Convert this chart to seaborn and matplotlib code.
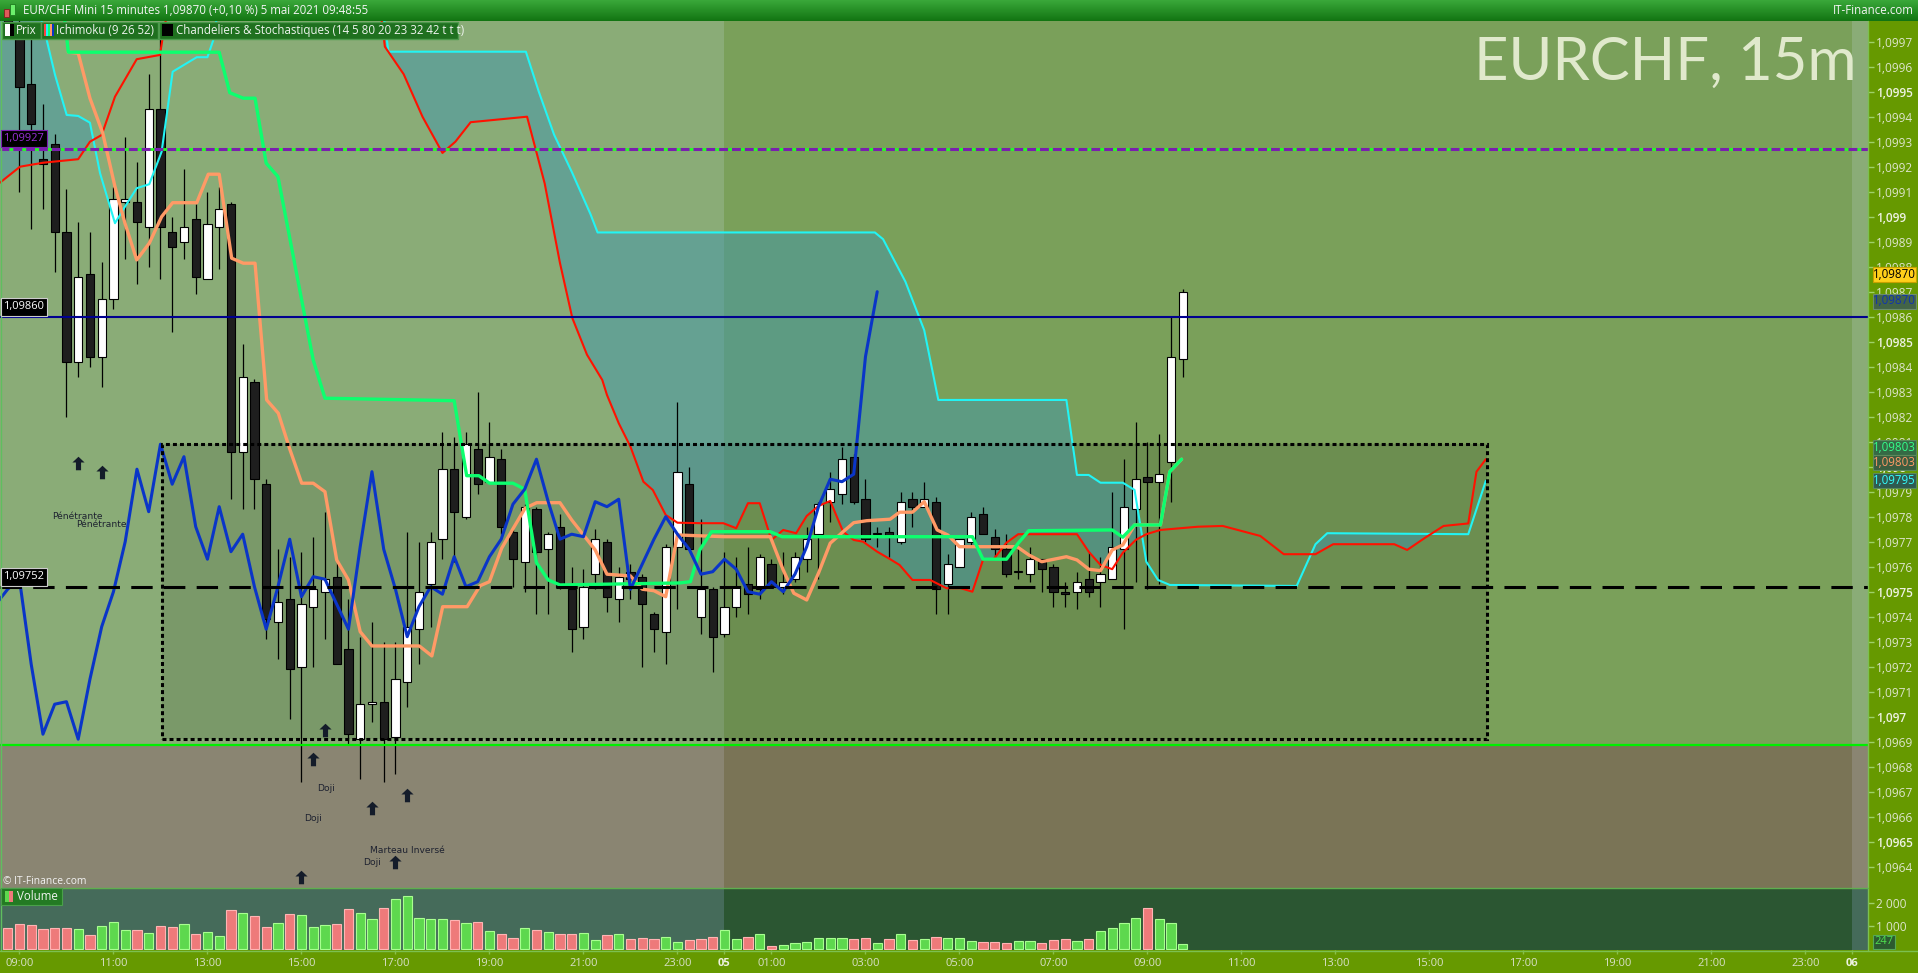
import numpy as np
import pandas as pd
import matplotlib
matplotlib.use("Agg")
import matplotlib.pyplot as plt
import seaborn as sns
from matplotlib.patches import Rectangle
from matplotlib.path import Path
from matplotlib.colors import LinearSegmentedColormap
from matplotlib import font_manager as fm

# ---------------------------------------------------------------- data
# 15-minute candles, EUR/CHF, 4 May 08:45 -> 5 May 09:45 (index 0..100)
opens = [1.09985, 1.09975, 1.09953, 1.09923, 1.09929, 1.09894, 1.09842, 1.09877, 1.09844, 1.09867,
         1.09906, 1.09906, 1.09896, 1.09943, 1.09894, 1.09890, 1.09899, 1.09875, 1.09896, 1.09905,
         1.09806, 1.09834, 1.09793, 1.09738, 1.09747, 1.09720, 1.09744, 1.09750, 1.09756, 1.09727,
         1.09691, 1.09705, 1.09706, 1.09692, 1.09714, 1.09735, 1.09753, 1.09771, 1.09799, 1.09780,
         1.09807, 1.09794, 1.09803, 1.09774, 1.09762, 1.09783, 1.09767, 1.09776, 1.09751, 1.09736,
         1.09757, 1.09770, 1.09747, 1.09758, 1.09756, 1.09741, 1.09734, 1.09768, 1.09793, 1.09740,
         1.09751, 1.09733, 1.09744, 1.09753, 1.09751, 1.09761, 1.09752, 1.09755, 1.09763, 1.09773,
         1.09786, 1.09789, 1.09804, 1.09787, 1.09773, 1.09774, 1.09770, 1.09787, 1.09784, 1.09786,
         1.09753, 1.09760, 1.09770, 1.09781, 1.09772, 1.09767, 1.09758, 1.09757, 1.09763, 1.09760,
         1.09750, 1.09750, 1.09755, 1.09754, 1.09755, 1.09767, 1.09783, 1.09796, 1.09794, 1.09802,
         1.09843]
highs = [1.09998, 1.09980, 1.09975, 1.09945, 1.09933, 1.09911, 1.09898, 1.09894, 1.09882, 1.09912,
         1.09932, 1.09922, 1.09957, 1.09973, 1.09900, 1.09919, 1.09905, 1.09910, 1.09912, 1.09906,
         1.09849, 1.09835, 1.09795, 1.09767, 1.09764, 1.09766, 1.09772, 1.09782, 1.09762, 1.09747,
         1.09732, 1.09738, 1.09730, 1.09730, 1.09774, 1.09770, 1.09774, 1.09814, 1.09812, 1.09814,
         1.09830, 1.09818, 1.09807, 1.09775, 1.09785, 1.09784, 1.09774, 1.09781, 1.09760, 1.09759,
         1.09775, 1.09771, 1.09760, 1.09761, 1.09757, 1.09742, 1.09769, 1.09826, 1.09800, 1.09779,
         1.09752, 1.09766, 1.09764, 1.09768, 1.09765, 1.09763, 1.09766, 1.09766, 1.09776, 1.09786,
         1.09798, 1.09808, 1.09805, 1.09795, 1.09776, 1.09776, 1.09790, 1.09790, 1.09794, 1.09788,
         1.09765, 1.09771, 1.09782, 1.09784, 1.09775, 1.09773, 1.09768, 1.09768, 1.09763, 1.09761,
         1.09754, 1.09758, 1.09766, 1.09764, 1.09790, 1.09803, 1.09818, 1.09810, 1.09813, 1.09860,
         1.09871]
lows = [1.09974, 1.09910, 1.09895, 1.09903, 1.09878, 1.09820, 1.09836, 1.09840, 1.09832, 1.09863,
        1.09883, 1.09873, 1.09880, 1.09875, 1.09854, 1.09883, 1.09869, 1.09875, 1.09879, 1.09787,
        1.09783, 1.09783, 1.09731, 1.09723, 1.09699, 1.09674, 1.09720, 1.09731, 1.09721, 1.09689,
        1.09675, 1.09698, 1.09674, 1.09677, 1.09704, 1.09721, 1.09736, 1.09763, 1.09762, 1.09779,
        1.09789, 1.09794, 1.09773, 1.09752, 1.09750, 1.09741, 1.09741, 1.09751, 1.09726, 1.09731,
        1.09751, 1.09742, 1.09738, 1.09747, 1.09720, 1.09726, 1.09721, 1.09743, 1.09767, 1.09733,
        1.09718, 1.09732, 1.09740, 1.09741, 1.09747, 1.09752, 1.09749, 1.09754, 1.09758, 1.09755,
        1.09778, 1.09785, 1.09785, 1.09770, 1.09768, 1.09764, 1.09769, 1.09776, 1.09784, 1.09741,
        1.09741, 1.09760, 1.09768, 1.09773, 1.09763, 1.09756, 1.09755, 1.09754, 1.09750, 1.09744,
        1.09744, 1.09743, 1.09748, 1.09744, 1.09755, 1.09735, 1.09754, 1.09751, 1.09753, 1.09786,
        1.09836]
closes = [1.09978, 1.09952, 1.09937, 1.09921, 1.09894, 1.09842, 1.09876, 1.09844, 1.09867, 1.09907,
          1.09907, 1.09898, 1.09943, 1.09896, 1.09888, 1.09896, 1.09876, 1.09897, 1.09903, 1.09806,
          1.09836, 1.09795, 1.09739, 1.09746, 1.09719, 1.09745, 1.09751, 1.09755, 1.09721, 1.09693,
          1.09705, 1.09706, 1.09691, 1.09715, 1.09736, 1.09750, 1.09770, 1.09799, 1.09782, 1.09809,
          1.09793, 1.09804, 1.09776, 1.09763, 1.09784, 1.09766, 1.09773, 1.09752, 1.09735, 1.09752,
          1.09771, 1.09748, 1.09756, 1.09755, 1.09745, 1.09735, 1.09768, 1.09798, 1.09767, 1.09751,
          1.09732, 1.09744, 1.09752, 1.09749, 1.09764, 1.09752, 1.09754, 1.09764, 1.09771, 1.09785,
          1.09791, 1.09803, 1.09786, 1.09771, 1.09773, 1.09772, 1.09786, 1.09784, 1.09787, 1.09751,
          1.09761, 1.09771, 1.09780, 1.09773, 1.09767, 1.09757, 1.09758, 1.09763, 1.09759, 1.09750,
          1.09749, 1.09754, 1.09750, 1.09757, 1.09768, 1.09784, 1.09795, 1.09794, 1.09797, 1.09844,
          1.09870]
volumes = [900, 1070, 1030, 860, 900, 900, 860, 610, 990, 1190,
           820, 820, 690, 990, 940, 1070, 650, 740, 570, 1690,
           1570, 1440, 940, 1110, 1530, 1490, 940, 1030, 1070, 1740,
           1570, 1320, 1780, 2150, 2280, 1360, 1320, 1280, 1240, 1150,
           1190, 780, 650, 490, 900, 820, 740, 650, 650, 690,
           400, 610, 650, 440, 490, 440, 530, 320, 400, 440,
           530, 820, 440, 530, 650, 150, 190, 280, 320, 490,
           490, 490, 440, 490, 280, 440, 650, 400, 440, 530,
           490, 490, 360, 320, 320, 280, 360, 360, 280, 400,
           440, 360, 440, 780, 900, 1150, 1360, 1780, 1280, 1110,
           240]
volume_up = [0, 0, 0, 0, 0, 0, 1, 0, 1, 1,
             1, 0, 1, 0, 0, 1, 0, 1, 1, 0,
             1, 0, 0, 1, 0, 1, 1, 1, 0, 0,
             1, 1, 0, 1, 1, 1, 1, 1, 0, 1,
             0, 1, 0, 0, 1, 0, 1, 0, 0, 1,
             1, 0, 1, 0, 0, 0, 1, 1, 0, 0,
             0, 1, 1, 0, 1, 0, 1, 1, 1, 1,
             1, 1, 0, 0, 1, 0, 1, 0, 1, 0,
             1, 1, 1, 0, 0, 0, 1, 1, 0, 0,
             0, 1, 0, 1, 1, 1, 1, 0, 1, 1,
             1]

# Ichimoku (9 26 52) lines, vertices as (bar index, price)
senkou_red_x = [-0.66, 1.05, 3.03, 6.0, 7.0, 8.0, 9.13, 10.98, 12.96, 13.3, 14.2, 31.4, 32.1, 33.7, 35.3,
                37.0, 38.1, 39.4, 44.2, 45.7, 47.0, 48.05, 49.3, 50.6, 51.0, 52.0, 53.0, 54.1, 54.9, 56.0,
                57.0, 59.0, 60.9, 62.0, 63.0, 64.0, 65.0, 66.0, 67.1, 68.0, 69.0, 70.0, 71.1, 72.0, 72.8,
                74.0, 75.1, 75.9, 77.0, 78.5, 79.9, 81.1, 82.1, 83.0, 83.9, 85.0, 86.0, 91.0, 92.0, 93.0,
                94.0, 94.9, 96.0, 96.9, 98.1, 101.3, 103.4, 106.6, 108.6, 111.3, 112.8, 118.0, 119.1,
                120.6, 122.2, 124.3, 125.0, 125.8]
senkou_red_y = [1.099136, 1.09920, 1.099216, 1.09923, 1.09930, 1.099327, 1.09948, 1.09963, 1.099647,
                1.09975, 1.09995, 1.09995, 1.09968, 1.09957, 1.09940, 1.099255, 1.09930, 1.099378,
                1.09940, 1.099133, 1.098815, 1.098595, 1.098448, 1.098347, 1.098287, 1.098174, 1.09808,
                1.09794, 1.097907, 1.097807, 1.097776, 1.097774, 1.097774, 1.097754, 1.097854, 1.097854,
                1.097707, 1.097747, 1.097734, 1.097803, 1.097843, 1.097863, 1.09774, 1.097707, 1.0977,
                1.09766, 1.09763, 1.097607, 1.097547, 1.097547, 1.097514, 1.097514, 1.0975, 1.097627,
                1.09763, 1.097696, 1.09773, 1.09773, 1.09766, 1.097607, 1.09759, 1.097656, 1.097707,
                1.09773, 1.097747, 1.09776, 1.097763, 1.097723, 1.09765, 1.09765, 1.09769, 1.09769,
                1.097667, 1.097715, 1.097763, 1.097773, 1.09798, 1.09803]
senkou_cyan_x = [-0.66, 2.5, 3.32, 4.03, 5.02, 6.0, 7.0, 7.86, 9.13, 9.98, 10.98, 12.05, 13.1, 14.04, 16.09,
                 17.0, 17.5, 18.3, 31.6, 32.4, 44.1, 45.2, 46.5, 48.0, 49.6, 50.2, 73.8, 74.5, 76.4, 78.0,
                 79.2, 90.1, 91.0, 92.0, 93.0, 94.9, 95.9, 96.9, 97.9, 98.9, 109.7, 111.3, 112.3, 124.3,
                 125.8]
senkou_cyan_y = [1.09995, 1.09985, 1.099707, 1.099567, 1.099407, 1.099403, 1.099376, 1.099174, 1.098974,
                 1.09904, 1.099114, 1.09913, 1.09926, 1.09958, 1.099638, 1.099638, 1.099707, 1.09995,
                 1.09995, 1.09966, 1.09966, 1.09950, 1.099328, 1.09918, 1.09901, 1.098937, 1.098937,
                 1.09891, 1.09874, 1.098546, 1.098267, 1.098267, 1.097967, 1.097967, 1.097936, 1.097936,
                 1.097907, 1.09762, 1.097547, 1.097527, 1.097523, 1.09769, 1.097734, 1.09773, 1.097944]
kijun_x = [4.7, 5.16, 18.0, 18.9, 20.05, 21.05, 22.0, 23.0, 26.0, 27.0, 38.0, 39.06, 40.1, 41.0, 43.0,
           44.0, 45.0, 46.0, 47.0, 57.2, 58.1, 58.9, 59.9, 64.9, 65.9, 82.1, 83.0, 85.0, 86.0, 86.9,
           94.0, 94.9, 95.9, 98.1, 98.9, 99.9]
kijun_y = [1.09985, 1.099658, 1.099658, 1.099496, 1.099474, 1.099474, 1.099214, 1.09916, 1.098427,
           1.098274, 1.098264, 1.097964, 1.097964, 1.097934, 1.097934, 1.09791, 1.097616, 1.097547,
           1.097527, 1.097535, 1.09754, 1.097667, 1.09774, 1.09774, 1.09772, 1.09772, 1.09763, 1.09763,
           1.097694, 1.097744, 1.097747, 1.097718, 1.097767, 1.097767, 1.09798, 1.09803]
tenkan_x = [5.16, 6.0, 7.0, 8.09, 9.13, 9.98, 10.98, 12.05, 13.1, 14.04, 16.09, 17.07, 18.0, 19.06, 20.05,
            21.05, 22.04, 23.03, 24.03, 25.02, 26.0, 27.0, 28.0, 29.0, 30.0, 31.0, 35.03, 36.1, 37.02,
            39.1, 40.2, 41.0, 42.04, 43.03, 44.03, 45.02, 47.0, 48.0, 49.0, 50.0, 51.0, 53.0, 54.0, 55.0,
            56.0, 57.0, 61.0, 64.9, 66.0, 66.9, 68.0, 69.0, 70.0, 71.1, 72.0, 73.1, 75.1, 75.9, 77.0,
            78.0, 79.1, 80.0, 81.0, 85.9, 86.9, 88.0, 90.1, 91.0, 92.0, 93.0, 94.0, 94.9, 95.9, 98.1,
            98.9, 99.9]
tenkan_y = [1.099658, 1.099654, 1.099474, 1.099334, 1.09912, 1.098974, 1.098827, 1.098894, 1.0990,
            1.099056, 1.099056, 1.09917, 1.09917, 1.098834, 1.098814, 1.098814, 1.098267, 1.098214,
            1.098067, 1.097934, 1.097934, 1.0979, 1.097627, 1.097547, 1.09734, 1.097283, 1.097283,
            1.097243, 1.09744, 1.09744, 1.097524, 1.09754, 1.097674, 1.097754, 1.097834, 1.097856,
            1.097856, 1.097787, 1.097727, 1.097667, 1.09757, 1.097563, 1.09751, 1.097504, 1.09748,
            1.097727, 1.09772, 1.09772, 1.097587, 1.097494, 1.097467, 1.097574, 1.097694, 1.09774,
            1.097776, 1.097784, 1.09779, 1.097818, 1.097818, 1.09786, 1.097747, 1.097727, 1.09768,
            1.09768, 1.097647, 1.09762, 1.09764, 1.097627, 1.09759, 1.097584, 1.097667, 1.097687,
            1.097767, 1.097767, 1.09798, 1.09803]
chikou_shift = 26

# horizontal levels
level_purple = 1.09927
level_navy = 1.09860
level_black = 1.09752
level_zone = 1.096887
box_x = [13.1, 125.9]
box_y = [1.09691, 1.09809]

# pattern markers
arrow_x = [5.99, 8.03, 27.0, 25.96, 33.96, 31.03, 32.96, 24.96]
arrow_y = [1.098014, 1.09798, 1.096947, 1.09683, 1.096687, 1.096634, 1.09642, 1.09636]
pattern_text = ["Pénétrante", "Pénétrante", "Doji", "Doji", "Marteau Inversé", "Doji"]
pattern_x = [5.96, 8.0, 27.06, 26.0, 34.0, 31.03]
pattern_y = [1.0978, 1.097768, 1.096714, 1.096594, 1.096464, 1.096416]

# time axis
tick_index = [1, 9, 17, 25, 33, 41, 49, 57, 61, 65, 73, 81, 89, 97, 105, 113, 121, 129, 137, 145, 153, 157]
tick_labels = ["09:00", "11:00", "13:00", "15:00", "17:00", "19:00", "21:00", "23:00", "05", "01:00",
               "03:00", "05:00", "07:00", "09:00", "11:00", "13:00", "15:00", "17:00", "19:00", "21:00",
               "23:00", "06"]
day_starts = [60.93, 156.92]
price_ticks = [round(1.0964 + k * 0.0001, 4) for k in range(34)]
vol_ticks = [1000, 2000]
vol_tick_labels = ["1 000", "2 000"]

title_text = "EUR/CHF Mini 15 minutes 1,09870 (+0,10 %) 5 mai 2021 09:48:55"
legend_items = ["Prix", "Ichimoku (9 26 52)", "Chandeliers & Stochastiques (14 5 80 20 23 32 42 t t t)"]

# ---------------------------------------------------------------- style
sns.set_theme(style="white")


def has_font(name):
    try:
        fm.findfont(fm.FontProperties(family=name), fallback_to_default=False)
        return True
    except Exception:
        return False


UI = "Open Sans" if has_font("Open Sans") else "DejaVu Sans"
NARROW = "Liberation Sans Narrow" if has_font("Liberation Sans Narrow") else UI
BIG = "Lato" if has_font("Lato") else UI
plt.rcParams["font.family"] = [UI, "DejaVu Sans"]

W, H = 1918, 973
fig = plt.figure(figsize=(W / 100, H / 100), dpi=100)
fig.patch.set_facecolor("#669900")

XL, XR = -0.655, 158.32
YT, YB = 1.0997828, 1.0963148
VB, VT = -30, 2631

ax = fig.add_axes([0, 1 - 888 / H, 1868 / W, 867 / H])
axv = fig.add_axes([0, 1 - 950 / H, 1868 / W, 62 / H])
for a in (ax, axv):
    a.set_xlim(XL, XR)
    a.set_facecolor("none")
    for s in a.spines.values():
        s.set_visible(False)
ax.set_ylim(YB, YT)
axv.set_ylim(VB, VT)


def band(a, x0, x1, y0, y1, c, z=0, alpha=1.0):
    a.add_patch(Rectangle((x0, y0), x1 - x0, y1 - y0, facecolor=c, edgecolor="none",
                          zorder=z, alpha=alpha))


d5, d6 = day_starts
band(ax, XL, d5, level_zone, YT, "#8aac77")
band(ax, d5, d6, level_zone, YT, "#7aa05a")
band(ax, d6, XR, level_zone, YT, "#8aac77")
band(ax, XL, d5, YB, level_zone, "#8a8572")
band(ax, d5, d6, YB, level_zone, "#7a7456")
band(ax, d6, XR, YB, level_zone, "#8a8572")
band(axv, XL, d5, VB, VT, "#456b5a")
band(axv, d5, d6, VB, VT, "#2b5632")
band(axv, d6, XR, VB, VT, "#456b5a")

# dashed rectangle (consolidation box)
band(ax, box_x[0], box_x[1], box_y[0], box_y[1], "black", z=0.5, alpha=0.11)
ax.add_patch(Rectangle((box_x[0], box_y[0]), box_x[1] - box_x[0], box_y[1] - box_y[0],
                       fill=False, edgecolor="black", lw=2.2, linestyle=(0, (1.3, 1.0)), zorder=4.5))

# kumo
grid = np.linspace(-0.66, 125.8, 4000)
r_i = np.interp(grid, senkou_red_x, senkou_red_y)
c_i = np.interp(grid, senkou_cyan_x, senkou_cyan_y)
ax.fill_between(grid, r_i, c_i, where=c_i >= r_i, interpolate=True,
                color="#3a95b5", alpha=0.45, lw=0, zorder=1)

# candles
xi = np.arange(len(closes))
o = np.array(opens)
c = np.array(closes)
hi = np.array(highs)
lo = np.array(lows)
up = c >= o
ax.vlines(xi, lo, hi, color="black", lw=0.9, zorder=2)
bot = np.minimum(o, c)
hgt = np.maximum(np.abs(c - o), 0.000004)
ax.bar(xi[up], hgt[up], bottom=bot[up], width=0.7, color="white", edgecolor="black", lw=0.8, zorder=2.1)
ax.bar(xi[~up], hgt[~up], bottom=bot[~up], width=0.7, color="#1e1e1e", edgecolor="black", lw=0.8, zorder=2.1)

# ichimoku lines via seaborn
sns.lineplot(x=senkou_cyan_x, y=senkou_cyan_y, ax=ax, color="#22f4f4", lw=1.5, sort=False,
             estimator=None, zorder=3)
sns.lineplot(x=senkou_red_x, y=senkou_red_y, ax=ax, color="#ff1200", lw=1.5, sort=False,
             estimator=None, zorder=3.1)
sns.lineplot(x=tenkan_x, y=tenkan_y, ax=ax, color="#ff9a66", lw=2.4, sort=False,
             estimator=None, zorder=3.2)
sns.lineplot(x=kijun_x, y=kijun_y, ax=ax, color="#0dff6e", lw=2.4, sort=False,
             estimator=None, zorder=3.3)
sns.lineplot(x=xi - chikou_shift, y=closes, ax=ax, color="#0a35c8", lw=2.2, sort=False,
             estimator=None, zorder=3.4)

# horizontal levels
ax.axhline(level_purple, color="#22ff22", lw=2.0, zorder=4)
ax.axhline(level_purple, color="#7a1fae", lw=2.2, dashes=(2.9, 1.3), zorder=4.1)
ax.axhline(level_navy, color="#00008f", lw=1.5, zorder=4)
ax.axhline(level_black, color="black", lw=2.2, dashes=(7, 3.7), zorder=4)
ax.axhline(level_zone, color="#00f000", lw=1.6, zorder=4)

# pattern arrows and labels
arrow_path = Path([(0, 1), (0.9, 0.15), (0.38, 0.15), (0.38, -1), (-0.38, -1), (-0.38, 0.15),
                   (-0.9, 0.15), (0, 1)], closed=True)
ax.scatter(arrow_x, arrow_y, marker=arrow_path, s=95, color="#141c2a", lw=0, zorder=5)
for t, px, py in zip(pattern_text, pattern_x, pattern_y):
    ax.text(px, py, t, fontsize=6.6, color="#1e2230", ha="center", va="center",
            family="DejaVu Sans", zorder=5)

# volume bars
vols = np.array(volumes)
vup = np.array(volume_up) == 1
axv.bar(xi[vup], vols[vup], width=0.78, color="#5ed84e", edgecolor="#a8ff90", lw=0.8, zorder=2)
axv.bar(xi[~vup], vols[~vup], width=0.78, color="#ee7a7a", edgecolor="#ffb4b4", lw=0.8, zorder=2)

# axes ticks
ax.set_xticks([])
ax.yaxis.tick_right()
labels = [f"{v:.4f}".rstrip("0").replace(".", ",") for v in price_ticks]
ax.set_yticks(price_ticks, labels, family=UI)
ax.tick_params(axis="y", right=True, left=False, labelright=True, labelleft=False, length=4, width=1,
               color="#9fd06a", labelcolor="#dde4cc", labelsize=8.6, pad=2)
for lab, v in zip(ax.get_yticklabels(), price_ticks):
    if round(v * 10000) % 5 == 0:
        lab.set_fontweight("semibold")
        lab.set_color("#eef2e2")

axv.yaxis.tick_right()
axv.set_yticks(vol_ticks, vol_tick_labels, family=UI)
axv.tick_params(axis="y", right=True, left=False, labelright=True, labelleft=False, length=4, width=1,
                color="#9fd06a", labelcolor="#dde4cc", labelsize=8.6, pad=2)
axv.set_xticks(tick_index, tick_labels, family=NARROW)
axv.tick_params(axis="x", bottom=True, length=3, width=1, color="#8cc04a", labelcolor="#d8e0c8",
                labelsize=8.0, pad=3)
for lab, t in zip(axv.get_xticklabels(), tick_labels):
    if len(t) == 2:
        lab.set_fontweight("bold")
        lab.set_color("#eef2e2")

# ---------------------------------------------------------------- overlay (pixel coordinates)
ov = fig.add_axes([0, 0, 1, 1])
ov.set_zorder(10)
ov.patch.set_alpha(0)
ov.axis("off")

grad = LinearSegmentedColormap.from_list("tb", ["#3aa83a", "#127512"])
ov.imshow(np.linspace(0, 1, 40).reshape(-1, 1), extent=(0, W, 21, 0), aspect="auto", cmap=grad, zorder=1)
ov.set_xlim(0, W)
ov.set_ylim(H, 0)

# title icon
ov.add_patch(Rectangle((4, 9), 5, 8, facecolor="#e05a5a", edgecolor="#802020", lw=0.6, zorder=2))
ov.add_patch(Rectangle((10, 4), 5, 11, facecolor="#6cf06c", edgecolor="#1f7a1f", lw=0.6, zorder=2))
ov.text(23, 10.5, title_text, color="#f4f4f4", fontsize=8.3, va="center", ha="left", zorder=3)
ov.text(1914, 10.5, "IT-Finance.com", color="#f4f4f4", fontsize=8.3, va="center", ha="right", zorder=3)

# legend boxes
boxes = [(1.5, 39.5), (41, 116.5), (159, 298.5)]
for (bx, bw), txt in zip(boxes, legend_items):
    ov.add_patch(Rectangle((bx, 21.5), bw, 17.5, facecolor="#1f701f", edgecolor="#4c9a4c", lw=1, zorder=2))
ov.add_patch(Rectangle((5, 24), 4.5, 12, facecolor="white", edgecolor="none", zorder=3))
ov.add_patch(Rectangle((9.5, 24), 4.5, 12, facecolor="black", edgecolor="none", zorder=3))
ov.text(16, 30.5, legend_items[0], color="#eef4ee", fontsize=8.3, va="center", zorder=3)
for k, col in enumerate(["#ff4040", "#22f4f4", "#0dff6e", "#ff9a66", "#0a35c8"]):
    ov.add_patch(Rectangle((44 + 2 * k, 24), 2, 12, facecolor=col, edgecolor="none", zorder=3))
ov.text(56, 30.5, legend_items[1], color="#eef4ee", fontsize=8.3, va="center", zorder=3)
ov.add_patch(Rectangle((162, 24), 11, 12, facecolor="black", edgecolor="none", zorder=3))
ov.text(176, 30.5, legend_items[2], color="#eef4ee", fontsize=8.3, va="center", zorder=3)

# watermark
ov.text(1857, 63, "EURCHF, 15m", color="#e0e9cc", fontsize=43, va="center", ha="right",
        family=BIG, fontweight="normal", zorder=3)

# left level labels
for y0, txt, fc, tc, ec in [(129.5, "1,09927", "black", "#9a2fd6", "#7a1fae"),
                            (298, "1,09860", "black", "white", "#cccccc"),
                            (568, "1,09752", "black", "white", "#cccccc")]:
    ov.add_patch(Rectangle((0.5, y0), 46, 17.5, facecolor=fc, edgecolor=ec, lw=0.8, zorder=3))
    ov.text(23.5, y0 + 9, txt, color=tc, fontsize=8.0, ha="center", va="center", zorder=4)

# right tags
for yc, txt, fc, tc, ec in [(274, "1,09870", "#ffcf1a", "black", "#c8a000"),
                            (301, "1,09870", "#436447", "#1034b0", "#6c8c6c"),
                            (447.5, "1,09803", "#356a45", "#33ff88", "#5a8a5a"),
                            (462.7, "1,09803", "#3b5d40", "#ff9a66", "#5a8a5a"),
                            (480, "1,09795", "#2f5a50", "#33ffff", "#5a8a5a")]:
    ov.add_patch(Rectangle((1873, yc - 7.5), 43, 15, facecolor=fc, edgecolor=ec, lw=0.8, zorder=3))
    ov.text(1894.5, yc, txt, color=tc, fontsize=8.3, ha="center", va="center", zorder=4)
ov.add_patch(Rectangle((1873, 934.5), 22, 14.5, facecolor="#2c5a30", edgecolor="#56a856", lw=0.8, zorder=3))
ov.text(1884, 942, "247", color="#4fe04f", fontsize=8.0, ha="center", va="center", family=NARROW, zorder=4)

# borders
ov.plot([1868, 1868], [21, 950], color="#7cc050", lw=1, zorder=2)
ov.plot([0, 1868], [888, 888], color="#5faf4f", lw=1, zorder=2)
ov.plot([0, 1918], [950.5, 950.5], color="#7cc050", lw=1, zorder=2)
ov.plot([0.5, 0.5], [21, 950], color="#5fbf5f", lw=1, zorder=2)

# copyright and volume legend
ov.text(3, 881, "© IT-Finance.com", color="#f2f2f2", fontsize=7.4, ha="left", va="center", zorder=4)
ov.add_patch(Rectangle((0.5, 888), 61.5, 17, facecolor="#237a23", edgecolor="#4aa04a", lw=0.8, zorder=3))
ov.add_patch(Rectangle((5, 891), 4, 11, facecolor="#5ed84e", edgecolor="none", zorder=4))
ov.add_patch(Rectangle((9, 891), 4, 11, facecolor="#ee7a7a", edgecolor="none", zorder=4))
ov.text(17, 896.5, "Volume", color="#f0f4f0", fontsize=8.3, va="center", ha="left", zorder=4)

fig.savefig("out.png", dpi=100, facecolor=fig.get_facecolor())
